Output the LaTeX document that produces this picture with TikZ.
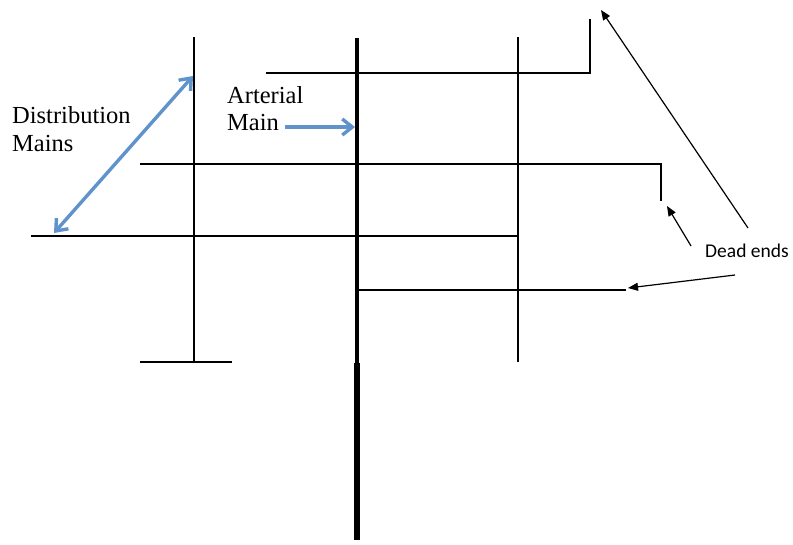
\documentclass[tikz,border=0pt]{standalone}
\usepackage{fontspec}
\setmainfont{Liberation Serif}
\newfontfamily\calib{Carlito}
\usetikzlibrary{arrows.meta}
\definecolor{mblue}{RGB}{96,146,204}
\begin{document}
\begin{tikzpicture}[x=1pt,y=-1pt,
  pipe/.style={line width=2.5pt, line cap=rect},
  bluetip/.style={Straight Barb[length=10pt,width=16pt,line width=3.4pt]},
  bluearr/.style={draw=mblue, line width=3.4pt, -{Straight Barb[length=10pt,width=16pt,line width=3.4pt]}},
  blackarr/.style={line width=1.2pt, -{Triangle[length=10pt,width=8pt]}},
  lbl/.style={inner sep=0pt, anchor=base west, font=\fontsize{24.5}{28}\selectfont}]
\useasboundingbox (0,0) rectangle (793,544);
% coordinates
\coordinate (LT) at (194,38);
\coordinate (LB) at (194,362);
\coordinate (TL) at (141,362);
\coordinate (TR) at (231,362);
\coordinate (AT) at (357,38);
\coordinate (AM) at (357,363);
\coordinate (AB) at (357,540);
\coordinate (RT) at (518,38);
\coordinate (RB) at (518,361);
\coordinate (H1a) at (267,73);
\coordinate (H1b) at (590,73);
\coordinate (H1c) at (590,20);
\coordinate (H2a) at (141,164);
\coordinate (H2b) at (661,164);
\coordinate (H2c) at (661,200);
\coordinate (H3a) at (32,236);
\coordinate (H3b) at (518,236);
\coordinate (H4a) at (357,290);
\coordinate (H4b) at (625,290);
% pipes
\draw[pipe] (LT) -- (LB);
\draw[pipe] (TL) -- (TR);
\draw[pipe] (RT) -- (RB);
\draw[pipe] (H1a) -- (H1b) -- (H1c);
\draw[pipe] (H2a) -- (H2b) -- (H2c);
\draw[pipe] (H3a) -- (H3b);
\draw[pipe] (H4a) -- (H4b);
\draw[line width=4.5pt] (AT) -- (AM);
\draw[line width=6.5pt] (AM) -- (AB);
% labels
\node[lbl] (dist) at (12,123) {Distribution};
\node[lbl] (mains) at (12,151) {Mains};
\node[lbl] (art) at (227,103) {Arterial};
\node[lbl] (main) at (227,130) {Main};
\node[inner sep=0pt, anchor=base west, font=\calib\fontsize{19.5}{22}\selectfont] (dead) at (705,257) {Dead ends};
% blue arrows
\coordinate (B1) at (54,233);
\coordinate (B2) at (193,76);
\draw[draw=mblue, line width=3.4pt, {Straight Barb[length=10pt,width=16pt,line width=3.4pt]}-{Straight Barb[length=10pt,width=16pt,line width=3.4pt]}] (B1) -- (B2);
\coordinate (A1) at (285,127);
\coordinate (A2) at (355,127);
\draw[bluearr] (A1) -- (A2);
% black arrows
\coordinate (D1s) at (748,228);
\coordinate (D1e) at (601,10);
\coordinate (D2s) at (691,246);
\coordinate (D2e) at (667,206);
\coordinate (D3s) at (735,275);
\coordinate (D3e) at (628,288);
\draw[blackarr] (D1s) -- (D1e);
\draw[blackarr] (D2s) -- (D2e);
\draw[blackarr] (D3s) -- (D3e);
\end{tikzpicture}
\end{document}
